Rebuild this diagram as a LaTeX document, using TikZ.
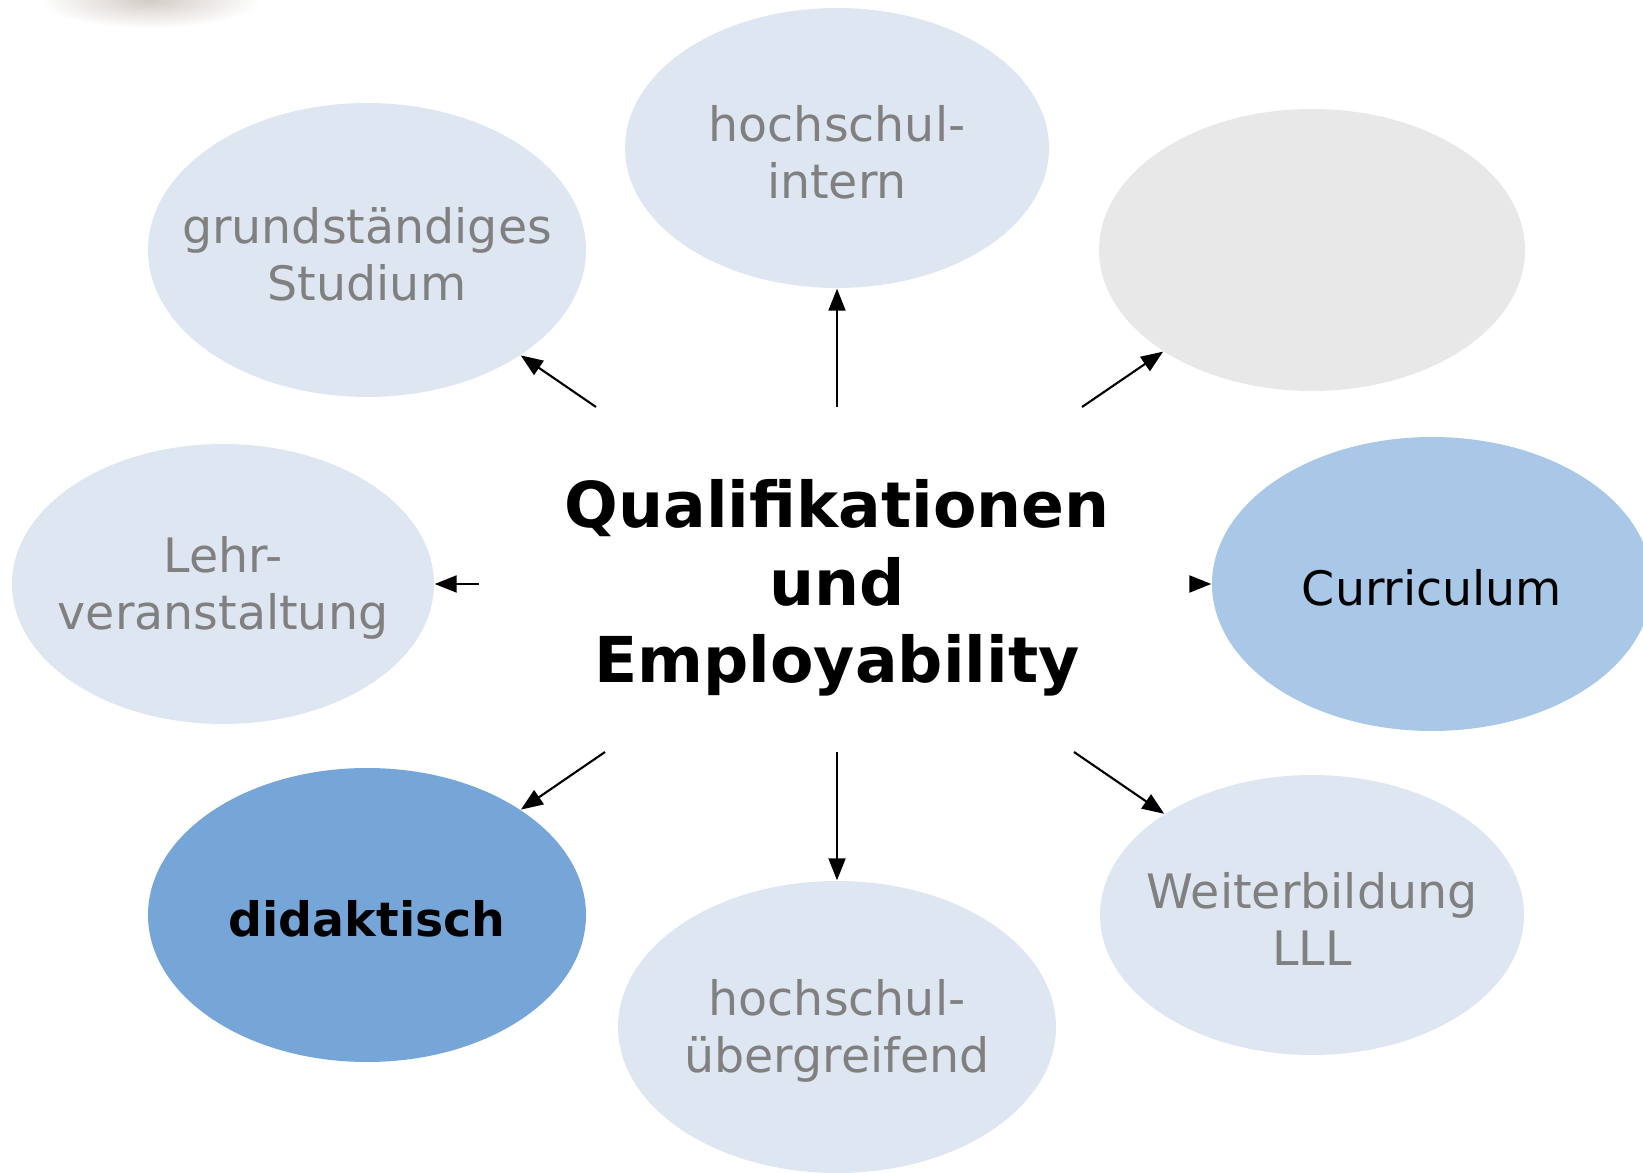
\documentclass[tikz,border=0pt]{standalone}
\usepackage{fontspec}
\setmainfont{DejaVu Sans}
\usetikzlibrary{shapes.geometric}
\usetikzlibrary{arrows.meta}
\definecolor{paleblue}{RGB}{222,230,241}
\definecolor{palegrey}{RGB}{232,232,232}
\definecolor{midblue}{RGB}{169,199,230}
\definecolor{deepblue}{RGB}{118,166,216}
\definecolor{greytext}{RGB}{128,128,128}
\tikzset{
  bubble/.style={ellipse, inner sep=0pt, fill=paleblue},
  bubtext/.style={align=center, text=greytext, yshift=-0.04cm, font=\fontsize{13.5}{16.2}\selectfont},
  pfeil/.style={-{Triangle[length=0.22cm, width=0.17cm]}, line width=0.6pt}
}

\begin{document}
\begin{tikzpicture}
    \useasboundingbox (0,0) rectangle (16.43,11.72);
    \clip (0,0) rectangle (16.43,11.72);
    \shade[inner color=brown!25!gray!40, outer color=white] (1.5,11.72) ellipse (1.1 and 0.28);

    % the eight bubbles
    \node[bubble, minimum width=4.38cm, minimum height=2.94cm,
          label={[bubtext]center:grundständiges\\Studium}] (grund) at (3.67,9.22) {};
    \node[bubble, minimum width=4.24cm, minimum height=2.80cm,
          label={[bubtext]center:hochschul-\\intern}] (intern) at (8.37,10.24) {};
    \node[bubble, fill=palegrey, minimum width=4.26cm, minimum height=2.82cm] (leer) at (13.12,9.22) {};
    \node[bubble, minimum width=4.22cm, minimum height=2.80cm,
          label={[bubtext]center:Lehr-\\veranstaltung}] (lehr) at (2.23,5.88) {};
    \node[bubble, fill=midblue, minimum width=4.40cm, minimum height=2.94cm,
          label={[bubtext, text=black]center:Curriculum}] (curr) at (14.32,5.88) {};
    \node[bubble, fill=deepblue, minimum width=4.38cm, minimum height=2.94cm,
          label={[bubtext, text=black, font=\fontsize{13.5}{16.2}\selectfont\bfseries]center:didaktisch}] (didak) at (3.67,2.57) {};
    \node[bubble, minimum width=4.38cm, minimum height=2.92cm,
          label={[bubtext]center:hochschul-\\übergreifend}] (ueber) at (8.37,1.45) {};
    \node[bubble, minimum width=4.24cm, minimum height=2.80cm,
          label={[bubtext]center:Weiterbildung\\LLL}] (weiter) at (13.12,2.57) {};

    \node[align=center, font=\fontsize{18}{22}\selectfont\bfseries] (quali) at (8.37,5.84)
        {Qualifikationen\\und\\Employability};

    % arrows out of the middle
    \coordinate (q1) at (5.96,7.65);
    \coordinate (q2) at (8.37,7.65);
    \coordinate (q3) at (10.82,7.65);
    \coordinate (q4) at (4.79,5.88);
    \coordinate (q5) at (12.00,5.88);
    \coordinate (q6) at (6.05,4.20);
    \coordinate (q7) at (8.37,4.20);
    \coordinate (q8) at (10.74,4.20);

    \draw[pfeil] (q1) -- (grund);
    \draw[pfeil] (q2) -- (intern);
    \draw[pfeil] (q3) -- (leer);
    \draw[pfeil] (q4) -- (lehr);
    \draw[pfeil] (q5) -- (curr);
    \draw[pfeil] (q6) -- (didak);
    \draw[pfeil] (q7) -- (ueber);
    \draw[pfeil] (q8) -- (weiter);
\end{tikzpicture}
\end{document}
